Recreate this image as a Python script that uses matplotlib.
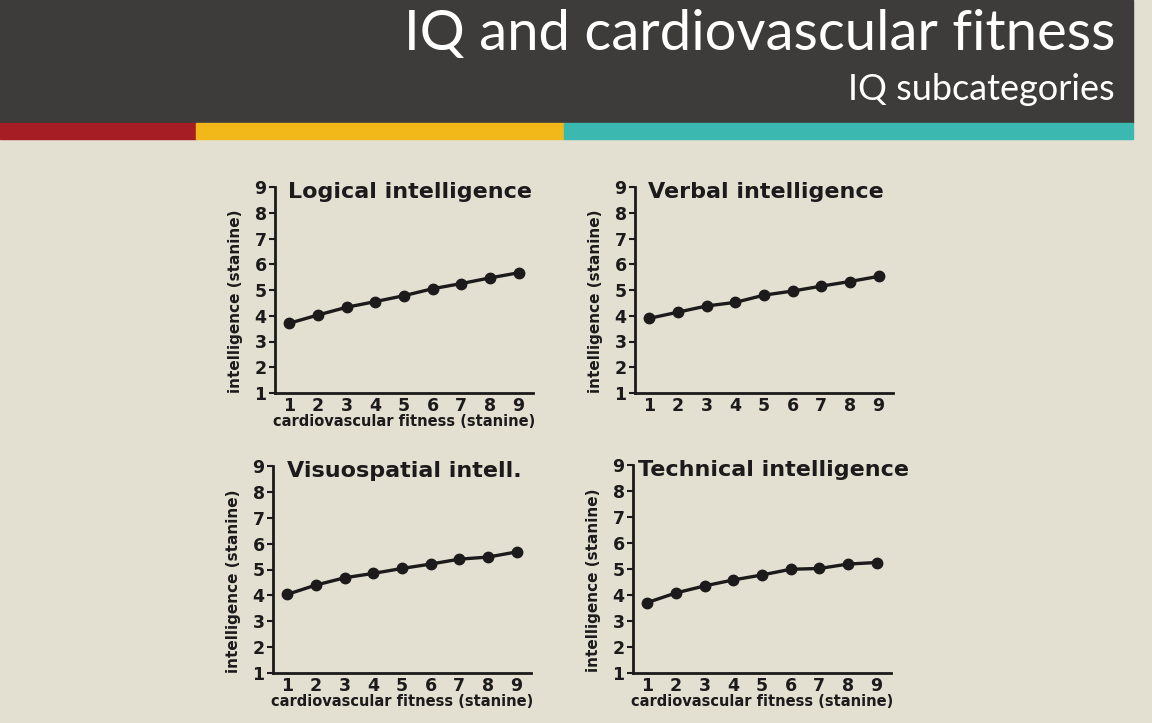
import numpy as np
import matplotlib
matplotlib.use("Agg")
from matplotlib import pyplot as plt
from matplotlib.patches import Rectangle

# data
fitness = [1, 2, 3, 4, 5, 6, 7, 8, 9]
logical = [3.71, 4.03, 4.33, 4.55, 4.78, 5.05, 5.25, 5.47, 5.67]
verbal = [3.90, 4.14, 4.38, 4.52, 4.80, 4.96, 5.15, 5.33, 5.53]
visuospatial = [4.04, 4.40, 4.68, 4.85, 5.04, 5.21, 5.40, 5.48, 5.68]
technical = [3.71, 4.08, 4.35, 4.58, 4.77, 4.99, 5.02, 5.19, 5.25]
panel_titles = ["Logical intelligence", "Verbal intelligence",
                "Visuospatial intell.", "Technical intelligence"]
yticks = [1, 2, 3, 4, 5, 6, 7, 8, 9]

bg = "#e3e0d2"
dark = "#3e3c3a"
ink = "#1c1a1a"

W, H = 1152, 723
fig = plt.figure(figsize=(W / 100, H / 100), dpi=100, facecolor=bg)

# header band and coloured stripe (pixel coords -> figure fraction)
def px_rect(x0, y0, x1, y1, color):
    fig.patches.append(Rectangle((x0 / W, 1 - y1 / H), (x1 - x0) / W, (y1 - y0) / H,
                                 transform=fig.transFigure, color=color, zorder=0))

px_rect(0, 0, 1133, 123, dark)
px_rect(0, 123, 196, 139, "#a61e23")
px_rect(196, 123, 564, 139, "#f2b81a")
px_rect(564, 123, 1133, 139, "#3bb9b1")

fig.text(1115 / W, 1 - 50 / H, "IQ and cardiovascular fitness", ha="right", va="baseline",
         color="white", fontsize=40.5, family="Lato", fontweight="normal")
fig.text(1115 / W, 1 - 100 / H, "IQ subcategories", ha="right", va="baseline",
         color="white", fontsize=26, family="Lato", fontweight="normal")

# axes boxes in pixels: left, top(y=9), bottom(y=1)
boxes = [(275, 187, 393), (635, 187, 393), (273, 466, 673), (633, 465, 673)]
series = [logical, verbal, visuospatial, technical]
title_x = [0.05, 0.05, 0.055, 0.02]
show_xlabel = [True, False, True, True]
axw = 258

for i in range(4):
    left, top, bot = boxes[i]
    ax = fig.add_axes([left / W, 1 - bot / H, axw / W, (bot - top) / H])
    ax.set_facecolor("none")
    ax.plot(fitness, series[i], color=ink, lw=2.4, marker="o", ms=7.5, clip_on=False)
    ax.set_xlim(0.5, 9.5)
    ax.set_ylim(1, 9)
    ax.set_xticks(fitness)
    ax.set_yticks(yticks)
    for s in ["top", "right"]:
        ax.spines[s].set_visible(False)
    for s in ["left", "bottom"]:
        ax.spines[s].set_linewidth(2)
        ax.spines[s].set_color(ink)
    ax.tick_params(axis="y", length=4, width=1.5, color=ink, pad=2,
                   labelsize=12.5, labelcolor=ink)
    ax.tick_params(axis="x", length=0, pad=3, labelsize=12.5, labelcolor=ink)
    for lab in ax.get_xticklabels() + ax.get_yticklabels():
        lab.set_fontweight("bold")
    ax.set_ylabel("intelligence (stanine)", fontsize=11, fontweight="bold", color=ink)
    ax.yaxis.set_label_coords(-0.125, 0.445)
    if show_xlabel[i]:
        ax.set_xlabel("cardiovascular fitness (stanine)", fontsize=10.5,
                      fontweight="bold", color=ink)
        ax.xaxis.set_label_coords(0.5, -0.1)
    ax.text(title_x[i], 0.945, panel_titles[i], transform=ax.transAxes,
            ha="left", va="baseline", fontsize=16, fontweight="bold", color=ink,
            clip_on=False)

fig.savefig("out.png", dpi=100, facecolor=bg)
